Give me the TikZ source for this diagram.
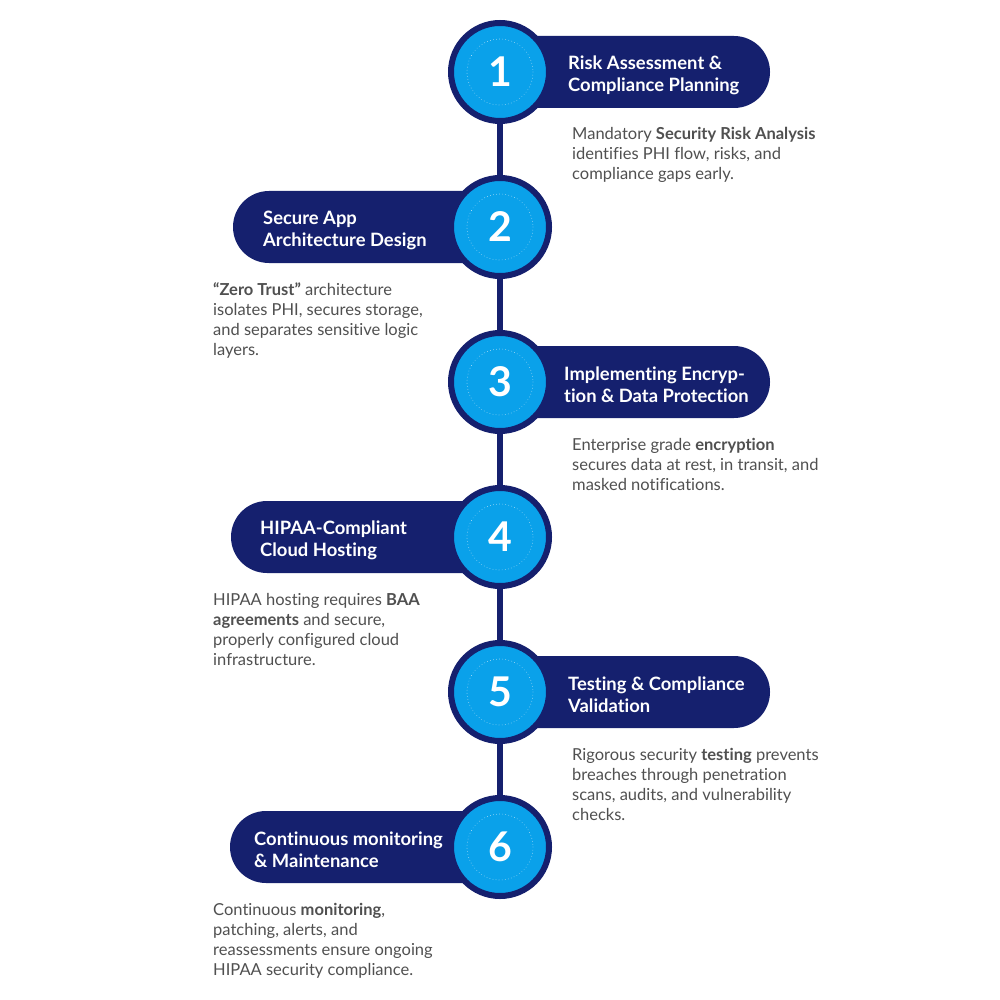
\documentclass[tikz,border=0pt]{standalone}
\usepackage{fontspec}
\setmainfont{Lato}[Ligatures=NoCommon]
\usetikzlibrary{positioning}
\definecolor{stepNavy}{HTML}{15206E}
\definecolor{stepBlue}{HTML}{0AA1EA}
\definecolor{noteGray}{HTML}{505050}

\begin{document}
\begin{tikzpicture}[x=1pt, y=-1pt,
    ring/.style={circle, draw=stepNavy, line width=6pt, fill=stepBlue, minimum size=98pt, inner sep=0pt, text=white, font=\fontsize{41}{41}\selectfont\bfseries},
    pill/.style={fill=stepNavy, rounded corners=36pt},
    title/.style={text=white, font=\fontsize{18.4}{22}\selectfont\bfseries, align=left, inner sep=0pt, anchor=west},
    note/.style={text=noteGray, font=\fontsize{16.5}{20}\selectfont, align=left, inner sep=0pt, anchor=north west},
    dots/.style={white, line width=0.7pt, dash pattern=on 0.1pt off 3pt, line cap=round, opacity=0.75}]
  \useasboundingbox[fill=white] (0,0) rectangle (1000,1000);

  % pills behind the circles
  \fill[pill] (470,36) rectangle (770,108);
  \fill[pill] (233,191) rectangle (530,263);
  \fill[pill] (470,346) rectangle (770,418);
  \fill[pill] (231,501) rectangle (530,573);
  \fill[pill] (470,656) rectangle (770,728);
  \fill[pill] (230,811) rectangle (530,883);

  % numbered circles
  \node[ring] (c1) at (500,72) {1};
  \node[ring] (c2) at (500,227) {2};
  \node[ring] (c3) at (500,382) {3};
  \node[ring] (c4) at (500,537) {4};
  \node[ring] (c5) at (500,692) {5};
  \node[ring] (c6) at (500,847) {6};
  \draw[dots] (c1) circle (33);
  \draw[dots] (c2) circle (33);
  \draw[dots] (c3) circle (33);
  \draw[dots] (c4) circle (33);
  \draw[dots] (c5) circle (33);
  \draw[dots] (c6) circle (33);

  % the rail
  \draw[stepNavy, line width=6pt] (c1.south) -- (c2.north);
  \draw[stepNavy, line width=6pt] (c2.south) -- (c3.north);
  \draw[stepNavy, line width=6pt] (c3.south) -- (c4.north);
  \draw[stepNavy, line width=6pt] (c4.south) -- (c5.north);
  \draw[stepNavy, line width=6pt] (c5.south) -- (c6.north);

  % titles
  \node[title] (t1) at (568,75) {Risk Assessment \&\\Compliance Planning};
  \node[title] (t2) at (263,230) {Secure App\\Architecture Design};
  \node[title] (t3) at (564,385) {Implementing Encryp-\\tion \& Data Protection};
  \node[title] (t4) at (260,540) {HIPAA-Compliant\\Cloud Hosting};
  \node[title] (t5) at (568,695) {Testing \& Compliance\\Validation};
  \node[title] (t6) at (254,850) {Continuous monitoring\\\& Maintenance};

  % notes
  \node[note] (d1) at (572,127) {Mandatory \textbf{Security Risk Analysis}\\identifies PHI flow, risks, and\\compliance gaps early.};
  \node[note] (d2) at (213,282) {\textbf{“Zero Trust”} architecture\\isolates PHI, secures storage,\\and separates sensitive logic\\layers.};
  \node[note] (d3) at (572,438) {Enterprise grade \textbf{encryption}\\secures data at rest, in transit, and\\masked notifications.};
  \node[note] (d4) at (213,593) {HIPAA hosting requires \textbf{BAA}\\\textbf{agreements} and secure,\\properly configured cloud\\infrastructure.};
  \node[note] (d5) at (572,748) {Rigorous security \textbf{testing} prevents\\breaches through penetration\\scans, audits, and vulnerability\\checks.};
  \node[note] (d6) at (213,903) {Continuous \textbf{monitoring},\\patching, alerts, and\\reassessments ensure ongoing\\HIPAA security compliance.};
\end{tikzpicture}
\end{document}
